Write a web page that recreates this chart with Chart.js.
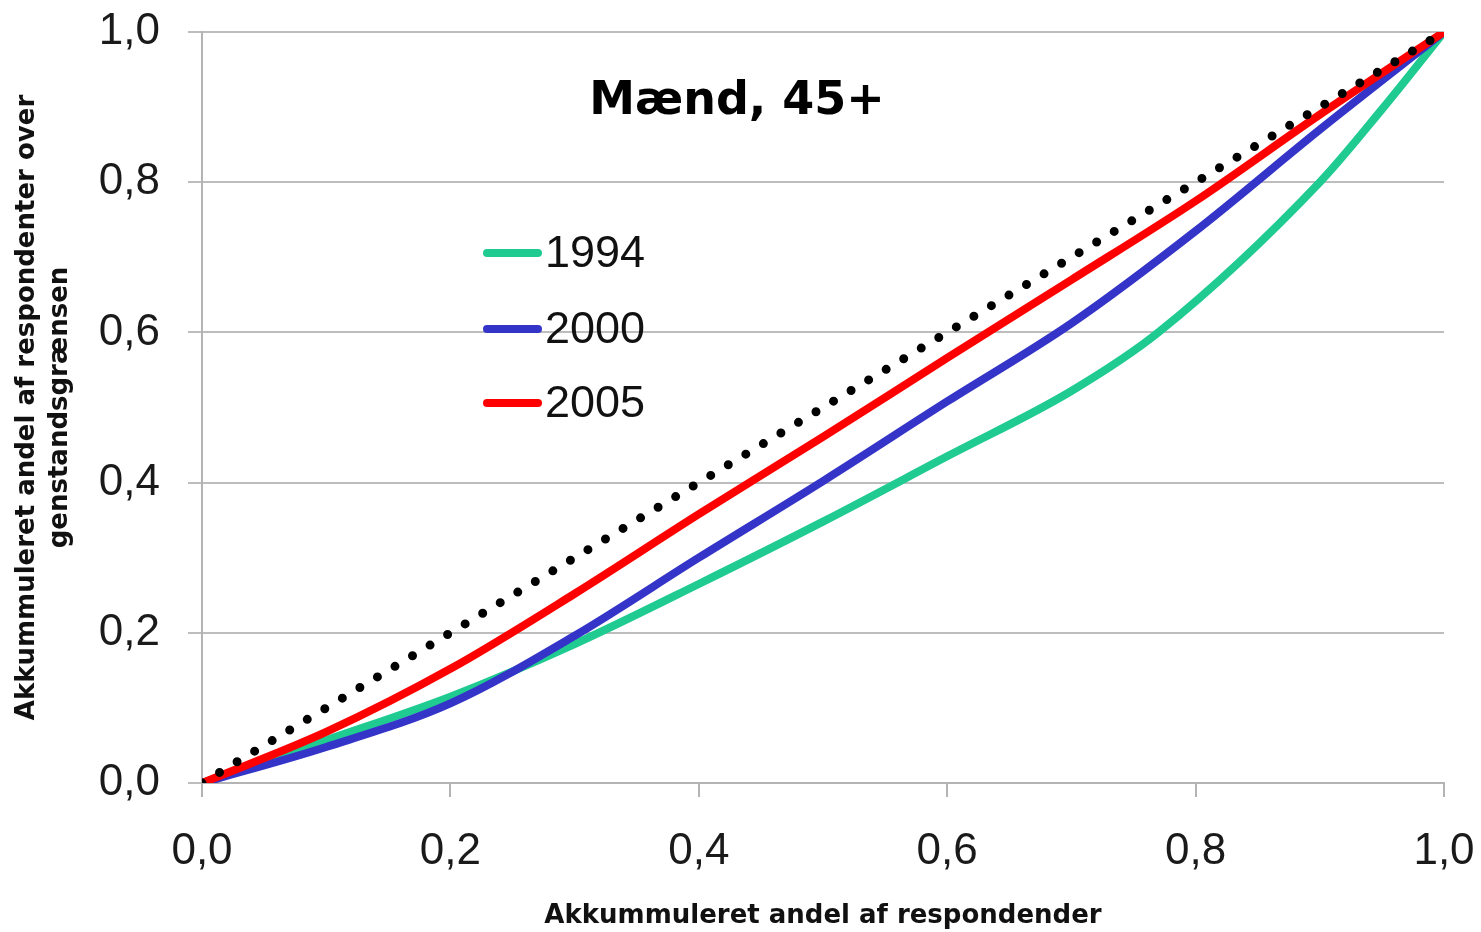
<!DOCTYPE html>
<html>
<head>
<meta charset="utf-8">
<script src="https://cdn.jsdelivr.net/npm/chart.js@4"></script>
<style>
  html, body { margin: 0; padding: 0; background: #fff; }
  #wrap { width: 1481px; height: 932px; position: relative; }
</style>
</head>
<body>
<div id="wrap"><canvas id="chart"></canvas></div>
<script>
// values (x = accumulated share of respondents)
const years = ['1994', '2000', '2005'];
const tickLabels = ['0,0', '0,2', '0,4', '0,6', '0,8', '1,0'];

const x1994 = [0, 0.1, 0.2, 0.3, 0.4, 0.5, 0.6, 0.7, 0.77, 0.9, 0.95, 1];
const y1994 = [0, 0.057, 0.115, 0.185, 0.265, 0.348, 0.435, 0.522, 0.6, 0.8, 0.897, 1];

const x2000 = [0, 0.1, 0.2, 0.3, 0.4, 0.5, 0.6, 0.7, 0.8, 0.9, 1];
const y2000 = [0, 0.048, 0.106, 0.196, 0.3, 0.402, 0.508, 0.612, 0.735, 0.87, 1];

const x2005 = [0, 0.1, 0.2, 0.3, 0.4, 0.5, 0.6, 0.7, 0.8, 0.9, 1];
const y2005 = [0, 0.068, 0.152, 0.252, 0.358, 0.461, 0.566, 0.67, 0.775, 0.89, 1];

const xEqual = [0, 1];
const yEqual = [0, 1];

const colors = ['#1fcb90', '#3434c8', '#ff0000'];

function pts(xs, ys) {
  return xs.map((x, i) => ({ x, y: ys[i] }));
}

const legendPlugin = {
  id: 'insideLegend',
  afterDraw(chart) {
    const ctx = chart.ctx;
    ctx.save();
    // title inside plot
    ctx.fillStyle = '#000';
    ctx.font = 'bold 46px "DejaVu Sans"';
    ctx.textAlign = 'center';
    ctx.textBaseline = 'middle';
    ctx.fillText('Mænd, 45+', 737, 102);
    // legend
    const rows = [253, 329, 403];
    ctx.font = '45px "Liberation Sans"';
    ctx.textAlign = 'left';
    years.forEach((yr, i) => {
      ctx.strokeStyle = colors[i];
      ctx.lineWidth = 8;
      ctx.lineCap = 'round';
      ctx.beginPath();
      ctx.moveTo(487, rows[i]);
      ctx.lineTo(538, rows[i]);
      ctx.stroke();
      ctx.fillStyle = '#111';
      ctx.fillText(yr, 545, rows[i] + 2);
    });
    ctx.restore();
  }
};

const lineOpts = { borderWidth: 8, pointRadius: 0, cubicInterpolationMode: 'monotone', fill: false, borderCapStyle: 'round' };

new Chart(document.getElementById('chart'), {
  type: 'line',
  data: {
    datasets: [
      Object.assign({ label: 'lige', data: pts(xEqual, yEqual), borderColor: '#000', order: 0 }, lineOpts, { borderWidth: 9, borderDash: [0, 20.5] }),
      Object.assign({ label: years[2], data: pts(x2005, y2005), borderColor: colors[2], order: 1 }, lineOpts),
      Object.assign({ label: years[1], data: pts(x2000, y2000), borderColor: colors[1], order: 2 }, lineOpts),
      Object.assign({ label: years[0], data: pts(x1994, y1994), borderColor: colors[0], order: 3 }, lineOpts)
    ]
  },
  options: {
    responsive: true,
    maintainAspectRatio: false,
    animation: false,
    layout: { padding: { left: 0, top: 32, right: 37, bottom: 0 } },
    plugins: { legend: { display: false }, tooltip: { enabled: false } },
    scales: {
      x: {
        type: 'linear', min: 0, max: 1,
        afterFit: (s) => { s.height = 149; s.paddingLeft = 0; s.paddingRight = 0; },
        ticks: {
          stepSize: 0.2, padding: 28, color: '#1a1a1a',
          font: { family: 'Liberation Sans', size: 44 },
          callback: (v) => tickLabels[Math.round(v * 5)]
        },
        grid: { drawOnChartArea: false, tickLength: 14, color: '#b4b4b4', lineWidth: 2 },
        border: { color: '#b4b4b4', width: 2 },
        title: {
          display: true, text: 'Akkummuleret andel af respondender', color: '#111',
          font: { family: 'DejaVu Sans', size: 26, weight: 'bold' }, padding: { top: 0, bottom: 0 }
        }
      },
      y: {
        min: 0, max: 1,
        afterFit: (s) => { s.width = 202; s.paddingTop = 0; s.paddingBottom = 0; },
        ticks: {
          stepSize: 0.2, padding: 28, color: '#1a1a1a',
          font: { family: 'Liberation Sans', size: 44 },
          callback: (v) => tickLabels[Math.round(v * 5)]
        },
        grid: { tickLength: 14, color: '#bdbdbd', lineWidth: 2 },
        border: { color: '#b4b4b4', width: 2 },
        title: {
          display: true, text: ['Akkummuleret andel af respondenter over', 'genstandsgrænsen'], color: '#111',
          font: { family: 'DejaVu Sans', size: 26, weight: 'bold', lineHeight: 1.3 }, padding: { top: 10, bottom: 0 }
        }
      }
    }
  },
  plugins: [legendPlugin]
});
</script>
</body>
</html>
